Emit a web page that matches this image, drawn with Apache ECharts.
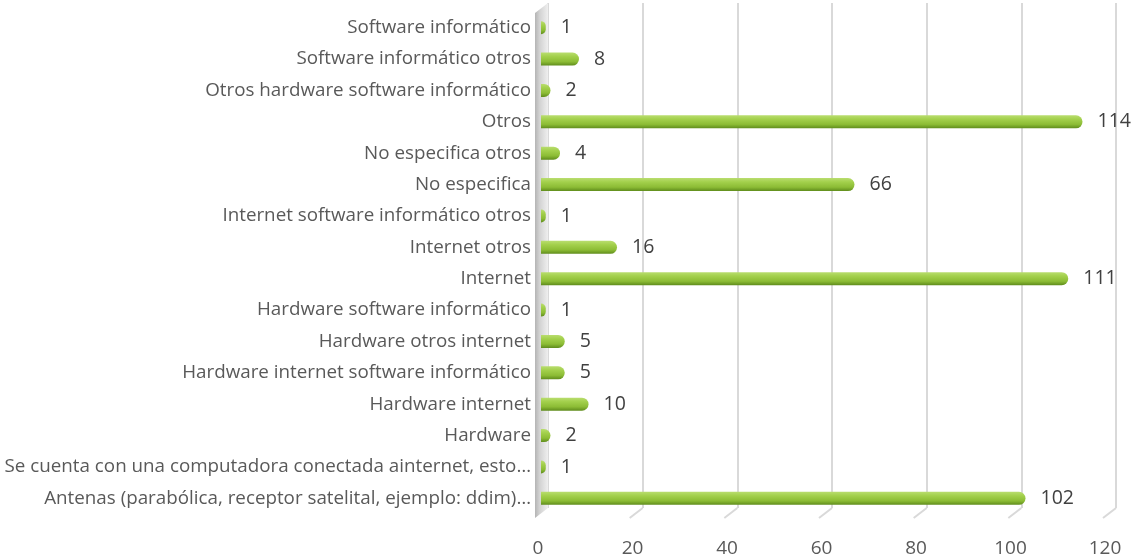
<!DOCTYPE html>
<html>
<head>
<meta charset="utf-8">
<script src="https://cdn.jsdelivr.net/npm/echarts@6/dist/echarts.min.js"></script>
<style>
  html, body { margin: 0; padding: 0; background: #ffffff; }
  #chart { width: 1136px; height: 559px; }
</style>
</head>
<body>
<div id="chart"></div>
<script>
// Categories, listed top to bottom
const categories = [
  'Software informático',
  'Software informático otros',
  'Otros hardware software informático',
  'Otros',
  'No especifica otros',
  'No especifica',
  'Internet software informático otros',
  'Internet otros',
  'Internet',
  'Hardware software informático',
  'Hardware otros internet',
  'Hardware internet software informático',
  'Hardware internet',
  'Hardware',
  'Se cuenta con una computadora conectada ainternet, esto…',
  'Antenas (parabólica, receptor satelital, ejemplo: ddim)…'
];
const values = [1, 8, 2, 114, 4, 66, 1, 16, 111, 1, 5, 5, 10, 2, 1, 102];

// Value axis ticks
const axisMin = 0;
const axisMax = 120;
const axisStep = 20;
const floorTicks = [20, 40, 60, 80, 100, 120];

// 3D depth offset of the back wall relative to the front plane
const DEPTH_X = -13;
const DEPTH_Y = 10;

const chart = echarts.init(document.getElementById('chart'), null, { renderer: 'canvas' });

const FONT = '"Open Sans", "Noto Sans", sans-serif';

const option = {
  animation: false,
  backgroundColor: '#ffffff',
  grid: [
    // back wall with the gridlines
    { left: 548, top: 3, width: 568, height: 505, containLabel: false, outerBoundsMode: 'none' },
    // bars and category labels
    { left: 541, top: 12, width: 570, height: 502, containLabel: false, outerBoundsMode: 'none' },
    // front plane carrying the value-axis labels
    { left: 538, top: 3, width: 567, height: 517, containLabel: false, outerBoundsMode: 'none' }
  ],
  xAxis: [
    {
      gridIndex: 0, type: 'value', min: axisMin, max: axisMax, interval: axisStep,
      axisLine: { show: false }, axisTick: { show: false }, axisLabel: { show: false },
      splitLine: { show: true, lineStyle: { color: '#d9d9d9', width: 2 } }
    },
    { gridIndex: 1, type: 'value', min: axisMin, max: axisMax, show: false },
    {
      gridIndex: 2, type: 'value', min: axisMin, max: axisMax, interval: axisStep,
      axisLine: { show: false }, axisTick: { show: false }, splitLine: { show: false },
      axisLabel: { margin: 19, fontSize: 19, color: '#595959', fontFamily: FONT }
    }
  ],
  yAxis: [
    { gridIndex: 0, type: 'value', min: 0, max: 1, show: false },
    {
      gridIndex: 1, type: 'category', data: categories, inverse: true,
      axisLine: { show: false }, axisTick: { show: false }, splitLine: { show: false },
      axisLabel: { margin: 10, fontSize: 18.8, color: '#595959', fontFamily: FONT }
    },
    { gridIndex: 2, type: 'value', min: 0, max: 1, show: false }
  ],
  series: [
    {
      // side wall at the value origin
      type: 'custom',
      xAxisIndex: 0, yAxisIndex: 0,
      silent: true,
      data: [[axisMin]],
      renderItem: function (params, api) {
        const top = api.coord([api.value(0), 1]);
        const bot = api.coord([api.value(0), 0]);
        return {
          type: 'polygon',
          shape: {
            points: [
              [top[0], top[1]],
              [bot[0], bot[1]],
              [bot[0] + DEPTH_X, bot[1] + DEPTH_Y],
              [top[0] + DEPTH_X, top[1] + DEPTH_Y]
            ]
          },
          style: {
            fill: new echarts.graphic.LinearGradient(0, 0, 1, 0, [
              { offset: 0, color: '#b4b4b4' },
              { offset: 0.35, color: '#d2d2d2' },
              { offset: 1, color: '#efefef' }
            ])
          }
        };
      },
      z: 1
    },
    {
      // floor edges running forward from each gridline
      type: 'custom',
      xAxisIndex: 0, yAxisIndex: 0,
      silent: true,
      data: floorTicks.map(v => [v]),
      renderItem: function (params, api) {
        const p = api.coord([api.value(0), 0]);
        return {
          type: 'line',
          shape: { x1: p[0], y1: p[1], x2: p[0] + DEPTH_X, y2: p[1] + DEPTH_Y },
          style: { stroke: '#d9d9d9', lineWidth: 2 }
        };
      },
      z: 1
    },
    {
      type: 'bar',
      xAxisIndex: 1, yAxisIndex: 1,
      data: values,
      barWidth: 13,
      itemStyle: {
        borderRadius: [0, 7, 7, 0],
        color: new echarts.graphic.LinearGradient(0, 0, 0, 1, [
          { offset: 0, color: '#b9dd6f' },
          { offset: 0.3, color: '#a3d04c' },
          { offset: 0.7, color: '#8cbc35' },
          { offset: 1, color: '#5f8c1c' }
        ])
      },
      label: {
        show: true,
        position: 'right',
        distance: 15,
        fontSize: 19.5,
        color: '#404040',
        fontFamily: FONT
      },
      z: 3
    }
  ]
};

chart.setOption(option);
</script>
</body>
</html>
